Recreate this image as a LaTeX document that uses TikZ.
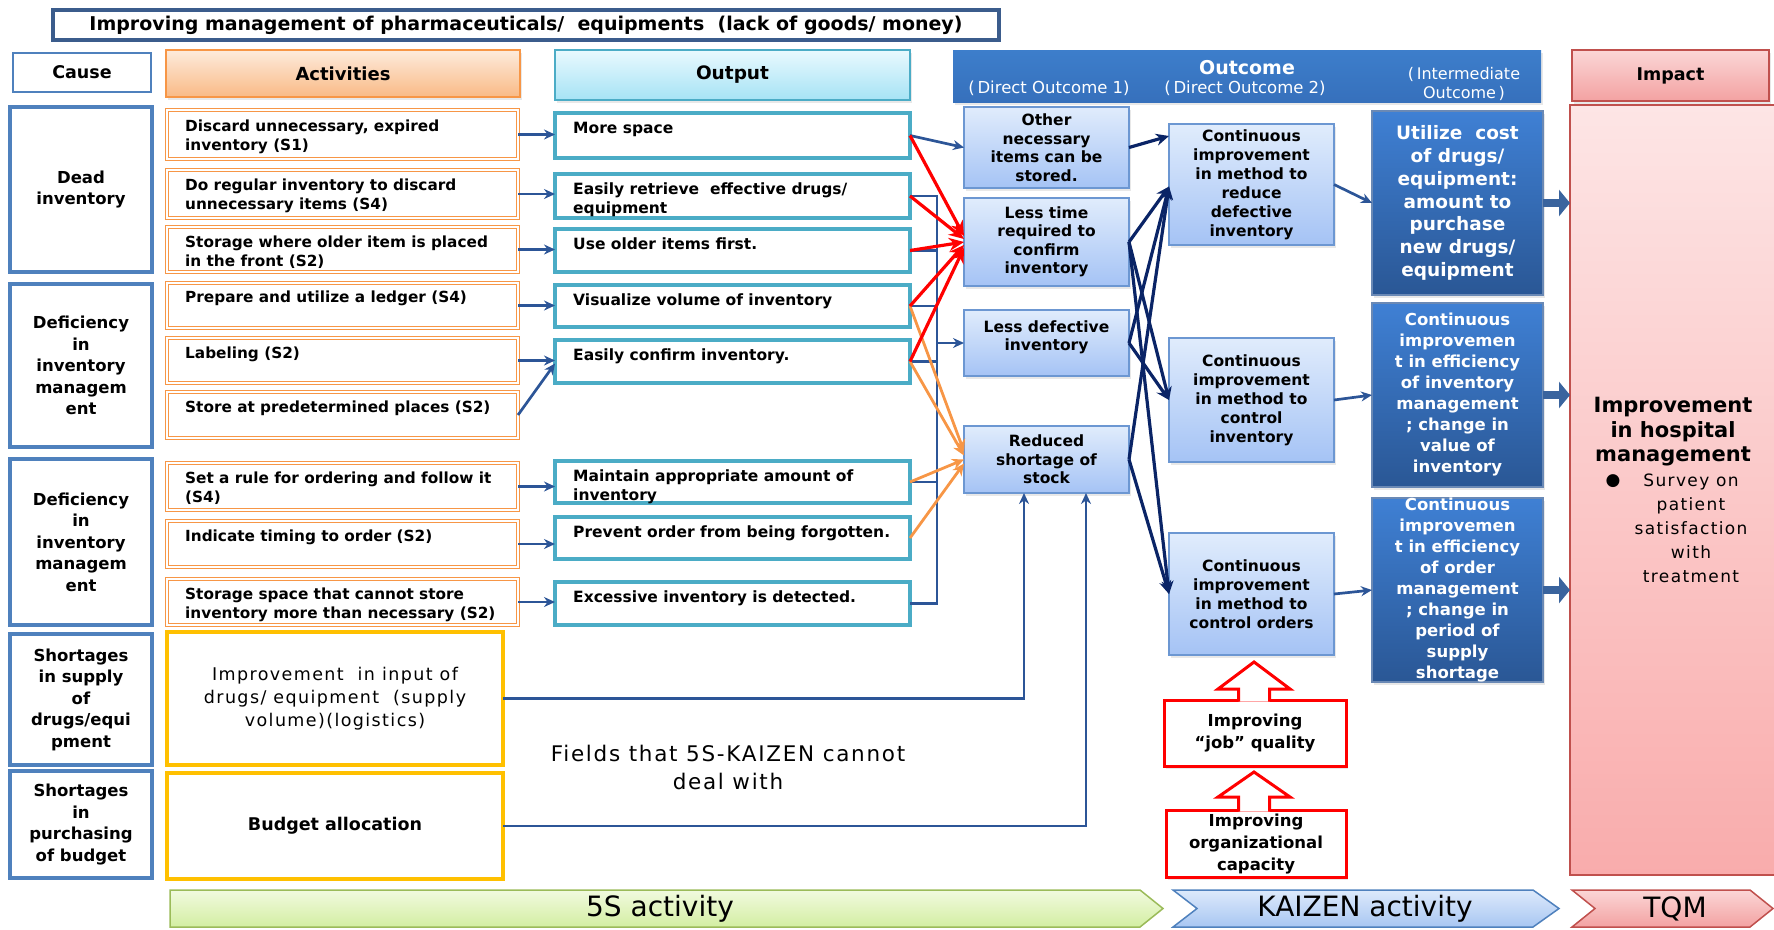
\documentclass[tikz,border=0pt]{standalone}
\usepackage{fontspec}
\setmainfont{DejaVu Sans}
\newfontfamily\spc[LetterSpace=8]{DejaVu Sans}
\usetikzlibrary{arrows.meta,calc,shadows}

\definecolor{causeblue}{HTML}{4F81BD}
\definecolor{actor}{HTML}{F79646}
\definecolor{acttop}{HTML}{FDEBDC}
\definecolor{actbot}{HTML}{F9BA86}
\definecolor{outcy}{HTML}{4BACC6}
\definecolor{outtop}{HTML}{E9F9FE}
\definecolor{outbot}{HTML}{A6E3F5}
\definecolor{arrblue}{HTML}{2C5597}
\definecolor{navy}{HTML}{0A2466}
\definecolor{ylw}{HTML}{FFC000}
\definecolor{o1top}{HTML}{E0ECFC}
\definecolor{o1bot}{HTML}{A5C3F5}
\definecolor{o1bd}{HTML}{6C97D2}
\definecolor{o3top}{HTML}{3F80D4}
\definecolor{o3bot}{HTML}{2A5795}
\definecolor{hdrtop}{HTML}{3D7ECB}
\definecolor{hdrbot}{HTML}{3670BC}
\definecolor{imptop}{HTML}{FDE5E5}
\definecolor{impbot}{HTML}{F9ACAC}
\definecolor{imphtop}{HTML}{FBD6D6}
\definecolor{imphbot}{HTML}{F3A2A2}
\definecolor{impbd}{HTML}{C0504D}
\definecolor{titlebd}{HTML}{3B5C8C}
\definecolor{fatblue}{HTML}{3A649E}
\definecolor{grtop}{HTML}{F1FADF}
\definecolor{grbot}{HTML}{D3EEA2}
\definecolor{grbd}{HTML}{9BBB59}
\definecolor{kztop}{HTML}{DDEAFB}
\definecolor{kzbot}{HTML}{A8C6F2}

\tikzset{
  box/.style={inner sep=0pt, outer sep=0pt, anchor=north west},
  shd/.style={drop shadow={opacity=0.18, shadow xshift=1.5pt, shadow yshift=-3pt}},
  titlebox/.style={box, draw=titlebd, line width=4.5pt, fill=white, font=\bfseries\fontsize{19}{22}\selectfont},
  causehdr/.style={box, draw=causeblue, line width=2.5pt, fill=white, font=\bfseries\fontsize{17.5}{21}\selectfont},
  acthdr/.style={box, shd, draw=actor, line width=1.2pt, top color=acttop, bottom color=actbot, font=\bfseries\fontsize{18}{22}\selectfont},
  outhdr/.style={box, shd, draw=outcy, line width=1.2pt, top color=outtop, bottom color=outbot, font=\bfseries\fontsize{18.5}{22}\selectfont},
  outchdr/.style={box, shd, top color=hdrtop, bottom color=hdrbot},
  imphdr/.style={box, shd, draw=impbd, line width=1.2pt, top color=imphtop, bottom color=imphbot, font=\bfseries\fontsize{17.5}{21}\selectfont},
  causebox/.style={box, draw=causeblue, line width=3.5pt, fill=white, align=center, font=\bfseries\fontsize{16.5}{21.5}\selectfont},
  actbox/.style={box, draw=actor, line width=1.2pt, double=white, double distance=1.6pt},
  ylwbox/.style={box, draw=ylw, line width=3.5pt, fill=white, align=center},
  outbox/.style={box, draw=outcy, line width=4.5pt, fill=white},
  acttxt/.style={anchor=north west, inner sep=0pt, align=left, font=\bfseries\fontsize{15.3}{19}\selectfont},
  outtxt/.style={anchor=north west, inner sep=0pt, align=left, font=\bfseries\fontsize{15.5}{19}\selectfont},
  o1box/.style={box, shd, draw=o1bd, line width=1.5pt, top color=o1top, bottom color=o1bot, align=center, font=\bfseries\fontsize{15.5}{18.5}\selectfont},
  o2box/.style={box, shd, draw=o1bd, line width=1.5pt, top color=o1top, bottom color=o1bot, align=center, font=\bfseries\fontsize{15.5}{19}\selectfont},
  o3box/.style={box, shd, draw=o3bot!70!white, line width=1.5pt, top color=o3top, bottom color=o3bot, align=center, text=white, font=\bfseries\fontsize{16.5}{21}\selectfont},
  impbox/.style={box, draw=impbd, line width=1.2pt, top color=imptop, bottom color=impbot},
  kbox/.style={box, shd, draw=red, line width=3pt, fill=white, align=center, font=\bfseries\fontsize{16.5}{22}\selectfont},
  barr/.style={draw=arrblue, line width=2.7pt, -{Stealth[length=11pt,width=10pt]}},
  bus/.style={draw=arrblue, line width=2.7pt},
  rarr/.style={draw=red, line width=3.2pt, -{Stealth[length=15pt,width=13pt]}},
  oarr/.style={draw=actor, line width=2.8pt, -{Stealth[length=12pt,width=11pt]}},
  narr/.style={draw=navy, line width=3.2pt, -{Stealth[length=13pt,width=12pt]}},
  fatarr/.style={draw=fatblue, line width=8pt, -{Triangle[length=11pt,width=26pt]}},
  chev/.style={font=\fontsize{28}{30}\selectfont},
  uparr/.style={draw=red, line width=3pt, fill=white, line join=miter},
}
\newcommand\bx[7]{\node[#1, minimum width=#5-#3, minimum height=#6-#4] (#2) at (#3,#4) {#7};}

\begin{document}
\begin{tikzpicture}[x=1pt,y=-1pt]
\useasboundingbox (0,0) rectangle (1774,929);

% title
\bx{titlebox}{title}{53}{10}{999}{40}{Improving management of pharmaceuticals/\ \ equipments\ \ (lack of goods/ money)}

% headers
\bx{causehdr}{hcause}{13}{53}{151}{92}{Cause}
\bx{acthdr}{hact}{166}{50}{520}{97}{Activities}
\bx{outhdr}{hout}{555}{50}{910}{100}{Output}
\bx{outchdr}{houtc}{953}{50}{1541}{102}{}
\bx{imphdr}{himp}{1572}{50}{1769}{101}{Impact}
\node[text=white, font=\bfseries\fontsize{19}{22}\selectfont] (outct) at (1247,68) {Outcome};
\node[text=white, font=\fontsize{16.5}{18}\selectfont] (do1) at (1049,88) {(\,Direct Outcome 1)};
\node[text=white, font=\fontsize{16.5}{18}\selectfont] (do2) at (1245,88) {(\,Direct Outcome 2)};
\node[text=white, font=\fontsize{16}{18.5}\selectfont, align=center] (io) at (1464,84) {(\,Intermediate\\Outcome\,)};

% causes
\bx{causebox}{c1}{10}{107}{152}{272}{Dead\\inventory}
\bx{causebox}{c2}{10}{284}{152}{447}{Deficiency\\in\\inventory\\managem\\ent}
\bx{causebox}{c3}{10}{459}{152}{625}{Deficiency\\in\\inventory\\managem\\ent}
\bx{causebox}{c4}{10}{634}{152}{765}{Shortages\\in supply\\of\\drugs/equi\\pment}
\bx{causebox}{c5}{10}{771}{152}{878}{Shortages\\in\\purchasing\\of budget}

% activities
\bx{actbox}{a1}{167}{110}{518}{159}{}
\bx{actbox}{a2}{167}{170}{518}{218}{}
\bx{actbox}{a3}{167}{227}{518}{272}{}
\bx{actbox}{a4}{167}{283}{518}{328}{}
\bx{actbox}{a5}{167}{338}{518}{383}{}
\bx{actbox}{a6}{167}{392}{518}{438}{}
\bx{actbox}{a7}{167}{463}{518}{510}{}
\bx{actbox}{a8}{167}{521}{518}{567}{}
\bx{actbox}{a9}{167}{579}{518}{625}{}
\node[acttxt] (a1t) at (185,120) {Discard unnecessary, expired\\inventory (S1)};
\node[acttxt] (a2t) at (185,179) {Do regular inventory to discard\\unnecessary items (S4)};
\node[acttxt] (a3t) at (185,236) {Storage where older item is placed\\in the front (S2)};
\node[acttxt] (a4t) at (185,291) {Prepare and utilize a ledger (S4)};
\node[acttxt] (a5t) at (185,347) {Labeling (S2)};
\node[acttxt] (a6t) at (185,401) {Store at predetermined places (S2)};
\node[acttxt] (a7t) at (185,472) {Set a rule for ordering and follow it\\(S4)};
\node[acttxt] (a8t) at (185,530) {Indicate timing to order (S2)};
\node[acttxt] (a9t) at (185,588) {Storage space that cannot store\\inventory more than necessary (S2)};

% yellow
\bx{ylwbox, font=\spc\fontsize{17.5}{23}\selectfont}{y1}{167}{632}{503}{765}{Improvement\ \ in input of\\drugs/ equipment\ \ (supply\\volume)(logistics)}
\bx{ylwbox, font=\bfseries\fontsize{17.5}{21}\selectfont}{y2}{167}{773}{503}{879}{Budget allocation}
\node[font=\spc\fontsize{21.5}{28}\selectfont, align=center] (fields) at (728,767) {Fields that 5S-KAIZEN cannot\\deal with};

% outputs
\bx{outbox}{o1}{555}{113}{910}{158}{}
\bx{outbox}{o2}{555}{174}{910}{218}{}
\bx{outbox}{o3}{555}{229}{910}{272}{}
\bx{outbox}{o4}{555}{285}{910}{327}{}
\bx{outbox}{o5}{555}{340}{910}{383}{}
\bx{outbox}{o6}{555}{461}{910}{503}{}
\bx{outbox}{o7}{555}{517}{910}{559}{}
\bx{outbox}{o8}{555}{582}{910}{625}{}
\node[outtxt] (o1t) at (573,122) {More space};
\node[outtxt] (o2t) at (573,183) {Easily retrieve\ \ effective drugs/\\equipment};
\node[outtxt] (o3t) at (573,238) {Use older items first.};
\node[outtxt] (o4t) at (573,294) {Visualize volume of inventory};
\node[outtxt] (o5t) at (573,349) {Easily confirm inventory.};
\node[outtxt] (o6t) at (573,470) {Maintain appropriate amount of\\inventory};
\node[outtxt] (o7t) at (573,526) {Prevent order from being forgotten.};
\node[outtxt] (o8t) at (573,591) {Excessive inventory is detected.};

% outcome 1
\bx{o1box}{p1}{964}{107}{1129}{188}{Other\\necessary\\items can be\\stored.}
\bx{o1box}{p2}{964}{198}{1129}{286}{Less time\\required to\\confirm\\inventory}
\bx{o1box}{p3}{964}{310}{1129}{376}{Less defective\\inventory\\[-4pt]}
\bx{o1box}{p4}{964}{426}{1129}{493}{Reduced\\shortage of\\stock}

% outcome 2
\bx{o2box}{q1}{1169}{124}{1334}{245}{Continuous\\improvement\\in method to\\reduce\\defective\\inventory}
\bx{o2box}{q2}{1169}{338}{1334}{462}{Continuous\\improvement\\in method to\\control\\inventory}
\bx{o2box}{q3}{1169}{533}{1334}{655}{Continuous\\improvement\\in method to\\control orders}

% outcome 3
\bx{o3box, font=\bfseries\fontsize{18.5}{22.8}\selectfont}{r1}{1372}{111}{1543}{295}{Utilize\ \ cost\\of drugs/\\equipment:\\amount to\\purchase\\new drugs/\\equipment}
\bx{o3box}{r2}{1372}{303}{1543}{487}{Continuous\\improvemen\\t in efficiency\\of inventory\\management\\; change in\\value of\\inventory}
\bx{o3box}{r3}{1372}{498}{1543}{682}{Continuous\\improvemen\\t in efficiency\\of order\\management\\; change in\\period of\\supply\\shortage}

% impact
\bx{impbox}{imp}{1570}{105}{1790}{875}{}
\node[font=\bfseries\fontsize{21}{24.5}\selectfont, align=center] (impt) at (1673,432) {Improvement\\in hospital\\management};
\node[font=\spc\fontsize{17}{24}\selectfont, align=center] (impl) at (1691,528) {Survey on\\patient\\satisfaction\\with\\treatment};
\node[font=\fontsize{17}{20}\selectfont] (bul) at (1613,481) {●};

% red boxes
\bx{kbox}{k1}{1164}{700}{1346}{766}{Improving\\“job” quality}
\bx{kbox}{k2}{1166}{810}{1346}{877}{Improving\\organizational\\capacity}
\filldraw[uparr] (1238.5,701.5) -- (1238.5,689) -- (1218,689) -- (1254,662) -- (1290,689) -- (1269.5,689) -- (1269.5,701.5);
\filldraw[uparr] (1238.5,811.5) -- (1238.5,797) -- (1218,797) -- (1254,772) -- (1290,797) -- (1269.5,797) -- (1269.5,811.5);

% chevrons
\draw[draw=grbd, line width=1.5pt, top color=grtop, bottom color=grbot] (170,890) -- (1140,890) -- (1163,908.5) -- (1140,927) -- (170,927) -- cycle;
\draw[draw=causeblue, line width=1.5pt, top color=kztop, bottom color=kzbot] (1173,890) -- (1533,890) -- (1559,908.5) -- (1533,927) -- (1173,927) -- (1197,908.5) -- cycle;
\draw[draw=impbd, line width=1.5pt, top color=imphtop, bottom color=imphbot] (1572,890) -- (1750,890) -- (1773,908.5) -- (1750,927) -- (1572,927) -- (1595,908.5) -- cycle;
\node[chev] (s5) at (660,908.5) {5S activity};
\node[chev] (kz) at (1365,908.5) {KAIZEN activity};
\node[chev] (tqm) at (1675,908.5) {TQM};

% activity -> output
\draw[barr] (a1.east) -- (a1.east -| o1.west);
\draw[barr] (a2.east) -- (a2.east -| o2.west);
\draw[barr] (a3.east) -- (a3.east -| o3.west);
\draw[barr] (a4.east) -- (a4.east -| o4.west);
\draw[barr] (a5.east) -- (a5.east -| o5.west);
\draw[barr] (a6.east) -- ($(o5.west)+(0,2)$);
\draw[barr] (a7.east) -- (a7.east -| o6.west);
\draw[barr] (a8.east) -- (a8.east -| o7.west);
\draw[barr] (a9.east) -- (a9.east -| o8.west);

% bus
\coordinate (busx) at (937,0);
\draw[bus] (o2.east) -- (o2.east -| busx) -- (busx |- o8.east) -- (o8.east);
\foreach \o in {o3,o4,o5,o6} \draw[bus] (\o.east) -- (\o.east -| busx);
\draw[barr] (busx |- p3.west) -- (p3.west);

% output -> outcome1
\draw[barr] (o1.east) -- (p1.west);
\draw[oarr] (o4.east) -- ($(p4.west)+(0,-8)$);
\draw[oarr] (o5.east) -- ($(p4.west)+(0,-4)$);
\draw[oarr] (o6.east) -- ($(p4.west)+(0,0)$);
\draw[oarr] (o7.east) -- ($(p4.west)+(0,4)$);
\draw[rarr] (o1.east) -- ($(p2.west)+(0,-6)$);
\draw[rarr] (o2.east) -- ($(p2.west)+(0,-3)$);
\draw[rarr] (o3.east) -- ($(p2.west)+(0,0)$);
\draw[rarr] (o4.east) -- ($(p2.west)+(0,3)$);
\draw[rarr] (o5.east) -- ($(p2.west)+(0,6)$);

% outcome1 -> outcome2
\draw[narr] (p1.east) -- ($(q1.north west)+(0,12)$);
\draw[narr] (p2.east) -- ($(q1.west)+(0,2)$);
\draw[narr] (p3.east) -- ($(q1.west)+(0,2)$);
\draw[narr] (p4.east) -- ($(q1.west)+(0,2)$);
\draw[narr] (p2.east) -- (q2.west);
\draw[narr] (p3.east) -- (q2.west);
\draw[narr] (p2.east) -- (q3.west);
\draw[narr] (p4.east) -- (q3.west);

% outcome2 -> outcome3
\draw[barr] (q1.east) -- (r1.west);
\draw[barr] (q2.east) -- (r2.west);
\draw[barr] (q3.east) -- (r3.west);

% outcome3 -> impact
\foreach \r in {r1,r2,r3} \draw[fatarr] (\r.east) -- (\r.east -| imp.west);

% yellow -> reduced shortage
\draw[bus, -{Stealth[length=11pt,width=10pt]}] (y1.east) -| ($(p4.south west)+(60,0)$);
\draw[bus, -{Stealth[length=11pt,width=10pt]}] (y2.east) -| ($(p4.south west)+(122,0)$);
\end{tikzpicture}
\end{document}
